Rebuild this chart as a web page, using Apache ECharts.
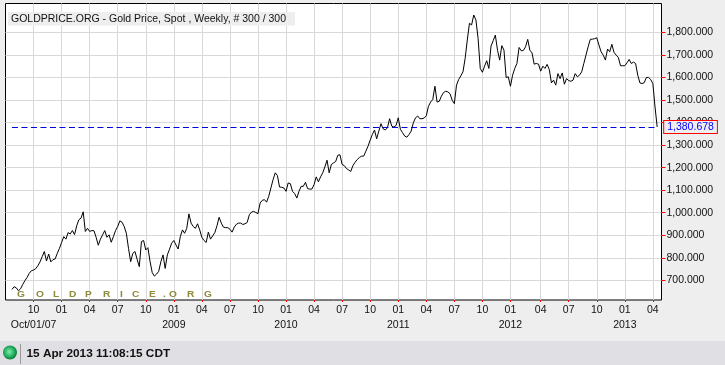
<!DOCTYPE html>
<html><head><meta charset="utf-8">
<style>html,body{margin:0;padding:0;background:#eee}#c{width:725px;height:365px}</style>
<script src="https://cdn.jsdelivr.net/npm/echarts@6/dist/echarts.min.js"></script>
</head><body><div id="c"></div>
<script>
const startDate = '2007-07-23';
const lastValue = 1380.678;
const prices = [
660,672,667,654,663,682,699,713,731,743,
746,752,765,782,805,828,786,817,782,792,
795,820,842,868,894,883,912,906,921,903,
942,969,976,1004,917,931,917,921,920,891,
856,883,902,921,891,902,869,894,921,939,
964,958,939,909,842,783,820,828,793,761,
872,877,835,845,783,734,719,728,740,783,
813,753,813,838,865,877,857,839,894,924,
909,931,995,954,939,931,951,924,891,877,
868,914,883,897,912,942,980,954,936,934,
934,927,914,936,949,954,954,948,951,957,
991,1003,1006,1001,996,1043,1055,1058,1047,1073,
1110,1147,1177,1165,1114,1113,1110,1095,1132,1129,
1095,1085,1065,1095,1117,1117,1135,1107,1105,1105,
1125,1159,1137,1159,1177,1203,1233,1177,1214,1221,
1227,1255,1257,1214,1209,1196,1190,1183,1209,1224,
1236,1245,1251,1251,1273,1295,1322,1347,1367,1328,
1362,1395,1372,1367,1377,1417,1384,1380,1387,1421,
1370,1355,1340,1335,1347,1362,1399,1421,1429,1417,
1417,1420,1430,1472,1491,1502,1561,1491,1494,1517,
1533,1539,1536,1528,1499,1484,1566,1591,1607,1625,
1684,1766,1840,1833,1877,1855,1773,1640,1623,1650,
1674,1640,1739,1763,1788,1721,1677,1741,1721,1600,
1603,1561,1610,1640,1662,1733,1718,1720,1736,1769,
1721,1709,1659,1662,1659,1628,1650,1640,1658,1635,
1576,1588,1566,1617,1595,1620,1570,1595,1586,1583,
1588,1617,1603,1610,1625,1662,1699,1736,1769,1770,
1772,1776,1744,1714,1699,1677,1726,1714,1747,1711,
1699,1689,1652,1652,1652,1665,1680,1662,1668,1662,
1610,1576,1573,1577,1600,1600,1591,1573,1469,lastValue
];
const priceTicks = [700,800,900,1000,1100,1200,1300,1400,1500,1600,1700,1800];
const tickDates = ['2007-10-01','2007-12-31','2008-03-31','2008-06-30','2008-09-29','2008-12-29','2009-03-30','2009-06-29','2009-09-28','2009-12-28','2010-03-29','2010-06-28','2010-09-27','2010-12-27','2011-03-28','2011-06-27','2011-09-26','2011-12-26','2012-04-02','2012-07-02','2012-10-01','2012-12-31','2013-04-01'];
const tickLabels = ['10','01','04','07','10','01','04','07','10','01','04','07','10','01','04','07','10','01','04','07','10','01','04'];
const yearLabels = {'2007-10-01':'Oct/01/07','2008-12-29':'2009','2009-12-28':'2010','2010-12-27':'2011','2011-12-26':'2012','2012-12-31':'2013'};
const titleText = 'GOLDPRICE.ORG - Gold Price, Spot , Weekly, # 300 / 300';
const watermark = ['G','O','L','D','P','R','I','C','E','.','O','R','G'];
const watermarkX = [17,36,53,69,85,103,120,132,149,163,169,187,204];
const statusText = '15 Apr 2013 11:08:15 CDT';

const WEEK = 7*86400000;
const t0 = Date.parse(startDate+'T00:00:00Z');
const day = t => new Date(t).toISOString().slice(0,10);
const cats = [], vals = [];
for (let i=-3;i<prices.length+2;i++){ cats.push(day(t0+i*WEEK)); vals.push(i>=0&&i<prices.length?prices[i]:null); }
const isTick = (idx,val)=>tickDates.includes(val);
const isYear = (idx,val)=>val in yearLabels;
const font = '"Liberation Sans",Arial,sans-serif';
const fmtPrice = v => v.toLocaleString('en-US',{minimumFractionDigits:3,maximumFractionDigits:3});

const chart = echarts.init(document.getElementById('c'),null,{renderer:'canvas'});
chart.setOption({
  animation:false,
  backgroundColor:'#eeeeee',
  textStyle:{fontFamily:font},
  title:{text:titleText,left:8,top:12,padding:[1.5,9,1,3],backgroundColor:'#eeeeee',
    textStyle:{fontSize:10.5,fontWeight:'normal',color:'#111',fontFamily:font}},
  grid:{left:5.5,top:3.5,width:656,height:296.5,show:true,backgroundColor:'#fff',borderColor:'#000',borderWidth:1},
  xAxis:[{type:'category',data:cats,boundaryGap:false,
    axisLine:{show:false},
    axisTick:{show:true,interval:isTick,length:2,lineStyle:{color:'#f00'}},
    splitLine:{show:true,interval:isTick,lineStyle:{color:'#d8d8d8',width:1}},
    axisLabel:{interval:isTick,margin:5,hideOverlap:false,showMinLabel:true,showMaxLabel:true,color:'#111',fontSize:10.5,fontFamily:font,
      formatter:(v)=>tickLabels[tickDates.indexOf(v)]}},
   {type:'category',data:cats,boundaryGap:false,position:'bottom',offset:15,
    axisLine:{show:false},axisTick:{show:false},splitLine:{show:false},
    axisLabel:{interval:isYear,margin:5,hideOverlap:false,showMinLabel:true,showMaxLabel:true,color:'#111',fontSize:10.5,fontFamily:font,
      formatter:(v)=>yearLabels[v]}}],
  yAxis:{type:'value',position:'right',min:613,max:1928,scale:true,
    axisLine:{show:false},
    axisTick:{show:true,inside:false,length:4,customValues:priceTicks,lineStyle:{color:'#f00'}},
    splitLine:{show:true,lineStyle:{color:'#d8d8d8',width:1}},
    axisLabel:{margin:5,color:'#111',fontSize:10.5,fontFamily:font,customValues:priceTicks,showMinLabel:true,showMaxLabel:true,
      formatter:v=>fmtPrice(v)}},
  series:[{type:'line',data:vals,showSymbol:false,symbol:'none',connectNulls:false,
    lineStyle:{color:'#000',width:1},silent:true,
    markLine:{silent:true,symbol:'none',
      lineStyle:{color:'#0000e0',type:[6,3.5],width:1},
      label:{show:true,position:'end',distance:7,formatter:()=>fmtPrice(lastValue),color:'#0000ff',fontSize:10.5,fontFamily:font,
        backgroundColor:'#eeeeee',borderColor:'#f00',borderWidth:1,padding:[1,3,0,3]},
      data:[[{coord:[cats[3],lastValue]},{coord:[cats[cats.length-3],lastValue]}]]}}],
  graphic:[
    ...watermark.map((ch,i)=>({type:'text',x:watermarkX[i],y:290.5,scaleX:1.2,z:50,style:{text:ch,fill:'#8f8b3c',font:'bold 8.5px '+font}})),
    {type:'rect',left:0,top:341,z:40,shape:{width:725,height:24},style:{fill:'#e0e0e4'}},
    {type:'circle',left:3,top:345.5,z:41,shape:{r:7},style:{fill:new echarts.graphic.RadialGradient(0.45,0.45,0.55,[{offset:0,color:'#7df0a8'},{offset:0.7,color:'#1ea85a'},{offset:1,color:'#0b7a3a'}])}},
    {type:'rect',left:20,top:344,z:41,shape:{width:1,height:20},style:{fill:'#9a9a9a'}},
    {type:'text',left:26.5,top:348,z:41,style:{text:statusText,fill:'#111',font:'bold 11.8px '+font}}
  ]
});
</script></body></html>
